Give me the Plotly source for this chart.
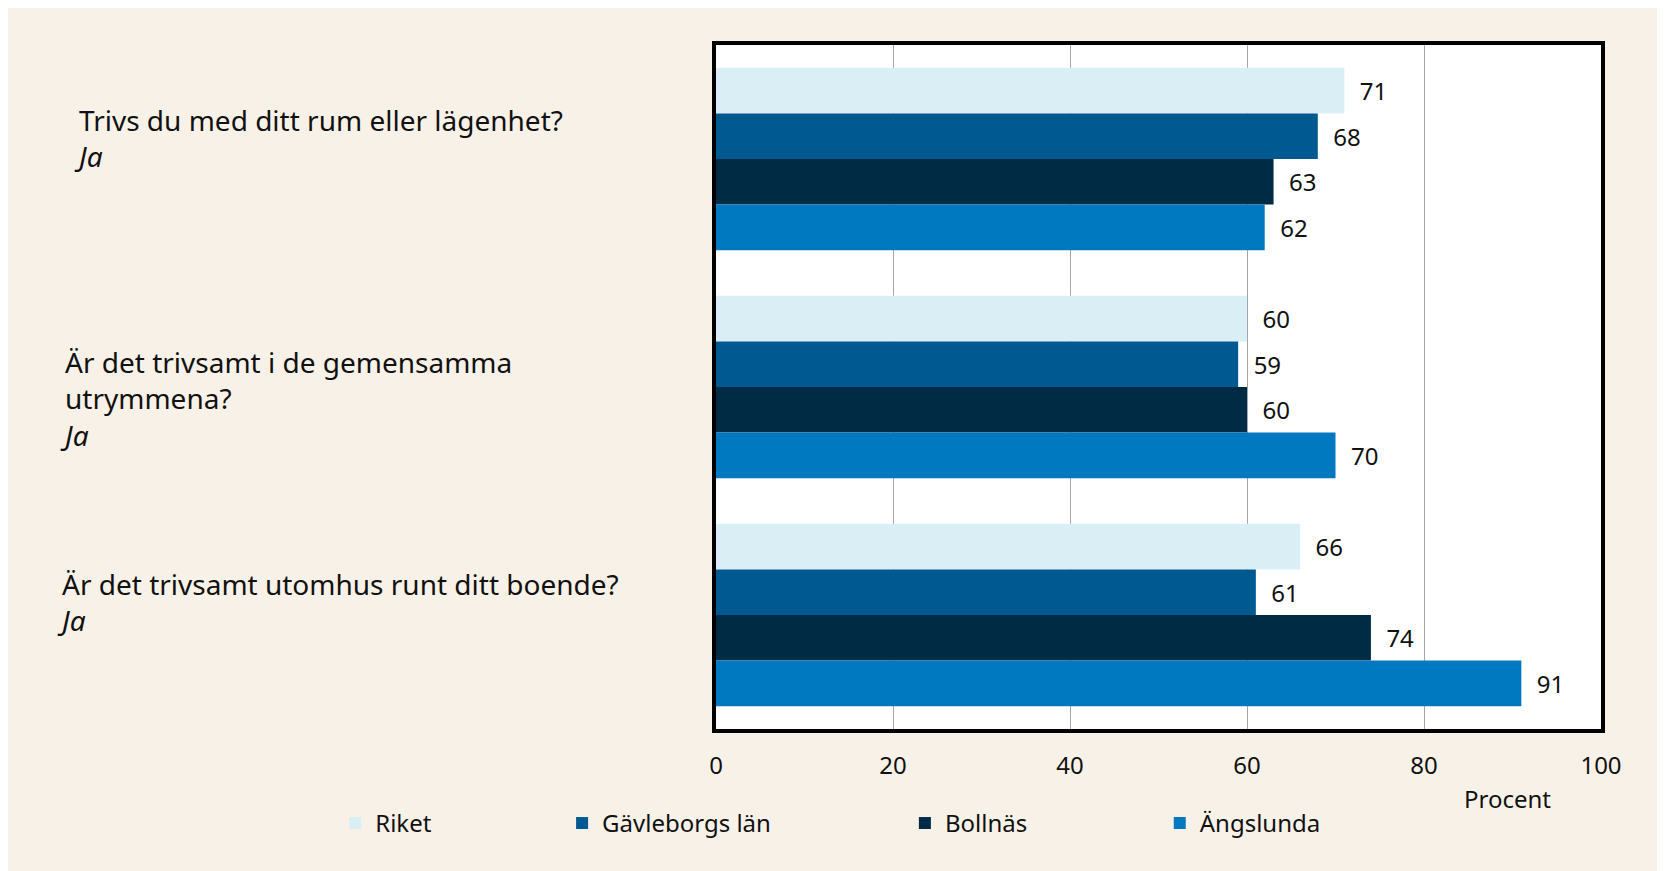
import plotly.graph_objects as go

# questions (top to bottom) and the label text shown beside each group
questions = ["rum", "gemensamma", "utomhus"]
question_labels = [
    "Trivs du med ditt rum eller lägenhet?<br><i>Ja</i>",
    "Är det trivsamt i de gemensamma<br>utrymmena?<br><i>Ja</i>",
    "Är det trivsamt utomhus runt ditt boende?<br><i>Ja</i>",
]

series_names = ["Riket", "Gävleborgs län", "Bollnäs", "Ängslunda"]
riket = [71, 60, 66]
gavleborg = [68, 59, 61]
bollnas = [63, 60, 74]
angslunda = [62, 70, 91]

x_ticks = [0, 20, 40, 60, 80, 100]

colors = ["#DAEEF5", "#005A92", "#002B45", "#0079C1"]
FONT = "Noto Sans"
W, H = 1665, 871
OFF = 8  # page body margin, positions below are measured on the page
L, T = 716 - OFF, 45 - OFF
R, B = W - (1601.5 - OFF), H - (729.5 - OFF)
pw, ph = W - L - R, H - T - B


def px_x(p):
    return (p - OFF - L) / pw


def px_y(p):
    return (H - B - (p - OFF)) / ph


fig = go.Figure()
legend_px = [335, 562, 905, 1160]
for i, (name, vals) in enumerate(zip(series_names, [riket, gavleborg, bollnas, angslunda])):
    fig.add_trace(go.Bar(
        y=questions, x=vals, name=name, orientation="h",
        marker=dict(color=colors[i], line=dict(width=0)),
        text=vals, texttemplate="\u00a0\u00a0%{x}", textposition="outside",
        textfont=dict(family=FONT, size=24, color="#111111"),
        legend="legend" if i == 0 else "legend%d" % (i + 1),
        hoverinfo="x+name",
    ))

# one small legend per series so the spacing can follow the original
for i in range(4):
    key = "legend" if i == 0 else "legend%d" % (i + 1)
    fig.update_layout({key: dict(
        x=px_x(legend_px[i]), y=px_y(824), xanchor="left", yanchor="middle",
        orientation="h", bgcolor="rgba(0,0,0,0)", itemwidth=30,
        font=dict(family=FONT, size=24, color="#111111"),
    )})

label_x = [72, 58, 55]
label_shift = [21, -11, 13]
for q, lab, lx, sh in zip(questions, question_labels, label_x, label_shift):
    fig.add_annotation(
        x=px_x(lx), xref="paper", y=q, yref="y",
        xanchor="left", yanchor="middle", align="left", yshift=sh,
        text=lab, showarrow=False,
        font=dict(family=FONT, size=28, color="#111111"),
    )

fig.add_annotation(
    x=px_x(1508), xref="paper", y=px_y(799), yref="paper",
    xanchor="center", yanchor="middle", text="Procent", showarrow=False,
    font=dict(family=FONT, size=24, color="#111111"),
)

fig.update_layout(
    width=W, height=H,
    margin=dict(l=L, r=R, t=T, b=B, pad=0),
    paper_bgcolor="#F8F1E8", plot_bgcolor="white",
    barmode="group", bargap=0.2, bargroupgap=0,
    font=dict(family=FONT, size=24, color="#111111"),
    xaxis=dict(
        range=[0, 100], tickvals=x_ticks, showgrid=True, gridcolor="#A6A6A6", gridwidth=1,
        showline=True, mirror=True, linecolor="black", linewidth=4,
        ticks="", ticklabelstandoff=12, zeroline=False,
        tickfont=dict(family=FONT, size=24, color="#111111"),
    ),
    yaxis=dict(
        autorange="reversed", showticklabels=False, showgrid=False,
        showline=True, mirror=True, linecolor="black", linewidth=4, ticks="",
    ),
    showlegend=True,
)

fig.write_html("out.html")
